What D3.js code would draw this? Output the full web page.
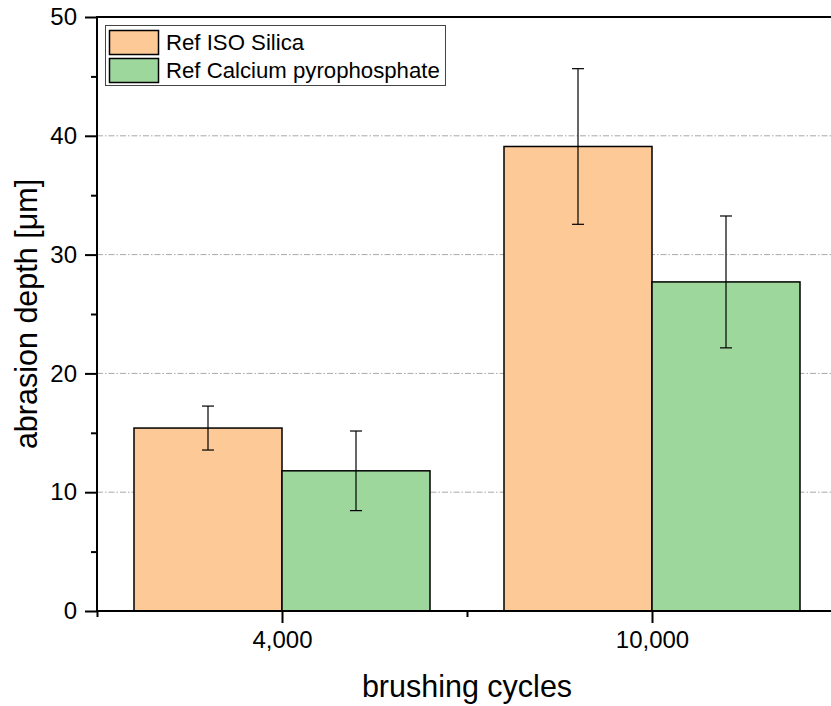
<!DOCTYPE html>
<html>
<head>
<meta charset="utf-8">
<script src="https://cdn.jsdelivr.net/npm/d3@7"></script>
<style>
  html, body { margin: 0; padding: 0; background: #fff; }
  svg { display: block; }
  text { font-family: Arial, "Liberation Sans", sans-serif; fill: #000; }
</style>
</head>
<body>
<svg id="chart" width="831" height="706"></svg>
<script>
const categories = ["4,000", "10,000"];
const seriesNames = ["Ref ISO Silica", "Ref Calcium pyrophosphate"];
const seriesColors = ["#FCC997", "#9ED79C"];
const silicaValues = [15.4, 39.1];
const silicaErrors = [1.85, 6.55];
const pyroValues = [11.8, 27.7];
const pyroErrors = [3.35, 5.55];
const yMajorTicks = [0, 10, 20, 30, 40, 50];
const yMinorTicks = [5, 15, 25, 35, 45];
const xTitle = "brushing cycles";
const yTitle = "abrasion depth [μm]";

const svg = d3.select("#chart");
const L = 97, R = 837, T = 17, B = 611;

const x = d3.scaleLinear().domain([0.5, categories.length + 0.5]).range([L, R]);
const y = d3.scaleLinear().domain([0, 50]).range([B, T]);
const barW = 0.4;

const series = [
  { name: seriesNames[0], color: seriesColors[0], values: silicaValues, errors: silicaErrors, offset: -barW },
  { name: seriesNames[1], color: seriesColors[1], values: pyroValues, errors: pyroErrors, offset: 0 }
];

// grid lines
svg.append("g").selectAll("line").data([10, 20, 30, 40]).join("line")
  .attr("x1", L).attr("x2", R)
  .attr("y1", d => y(d)).attr("y2", d => y(d))
  .attr("stroke", "#a8a8a8").attr("stroke-width", 1)
  .attr("stroke-dasharray", "6,2,1.5,2");

// bars
series.forEach(s => {
  const g = svg.append("g");
  g.selectAll("rect").data(s.values).join("rect")
    .attr("x", (d, i) => x(i + 1 + s.offset))
    .attr("width", x(1 + barW) - x(1))
    .attr("y", d => y(d))
    .attr("height", d => y(0) - y(d))
    .attr("fill", s.color)
    .attr("stroke", "#000").attr("stroke-width", 1.5);
});

// error bars
series.forEach(s => {
  const g = svg.append("g").attr("stroke", "#000").attr("stroke-width", 1.2);
  s.values.forEach((v, i) => {
    const cx = x(i + 1 + s.offset + barW / 2);
    const lo = y(v - s.errors[i]), hi = y(v + s.errors[i]);
    g.append("line").attr("x1", cx).attr("x2", cx).attr("y1", lo).attr("y2", hi);
    g.append("line").attr("x1", cx - 6).attr("x2", cx + 6).attr("y1", lo).attr("y2", lo);
    g.append("line").attr("x1", cx - 6).attr("x2", cx + 6).attr("y1", hi).attr("y2", hi);
  });
});

// Y axis
const yAxis = d3.axisLeft(y).tickValues(yMajorTicks).tickSize(12).tickPadding(8).tickFormat(d3.format("d"));
const yg = svg.append("g").attr("transform", `translate(${L},0)`).call(yAxis);
yg.select(".domain").remove();
yg.selectAll(".tick line").attr("stroke-width", 2);
yg.selectAll(".tick text").style("font-size", "24px").attr("font-family", "Arial, 'Liberation Sans', sans-serif");
const yMinor = d3.axisLeft(y).tickValues(yMinorTicks).tickSize(6).tickFormat("");
const ymg = svg.append("g").attr("transform", `translate(${L},0)`).call(yMinor);
ymg.select(".domain").remove();
ymg.selectAll(".tick line").attr("stroke-width", 2);

// X axis
const xAxis = d3.axisBottom(x).tickValues(d3.range(1, categories.length + 1)).tickSize(12).tickPadding(8)
  .tickFormat(d => categories[d - 1]);
const xg = svg.append("g").attr("transform", `translate(0,${B})`).call(xAxis);
xg.select(".domain").remove();
xg.selectAll(".tick line").attr("stroke-width", 2);
xg.selectAll(".tick text").style("font-size", "24px").attr("font-family", "Arial, 'Liberation Sans', sans-serif");
const xMinor = d3.axisBottom(x).tickValues(d3.range(0.5, categories.length + 1, 1)).tickSize(6).tickFormat("");
const xmg = svg.append("g").attr("transform", `translate(0,${B})`).call(xMinor);
xmg.select(".domain").remove();
xmg.selectAll(".tick line").attr("stroke-width", 2);

// frame lines
svg.append("line").attr("x1", L).attr("x2", L).attr("y1", T).attr("y2", B + 1).attr("stroke", "#000").attr("stroke-width", 2);
svg.append("line").attr("x1", L - 1).attr("x2", R).attr("y1", B).attr("y2", B).attr("stroke", "#000").attr("stroke-width", 2);
svg.append("line").attr("x1", L - 1).attr("x2", R).attr("y1", T).attr("y2", T).attr("stroke", "#000").attr("stroke-width", 2);
svg.append("line").attr("x1", R).attr("x2", R).attr("y1", T).attr("y2", B).attr("stroke", "#000").attr("stroke-width", 2);

// axis titles
svg.append("text").attr("x", (L + R) / 2).attr("y", 697).attr("text-anchor", "middle")
  .style("font-size", "30.5px").text(xTitle);
svg.append("text").attr("transform", `translate(37,${(T + B) / 2}) rotate(-90)`).attr("text-anchor", "middle")
  .style("font-size", "30.5px").text(yTitle);

// legend
const lg = svg.append("g");
lg.append("rect").attr("x", 105.5).attr("y", 25.5).attr("width", 340).attr("height", 60)
  .attr("fill", "#fff").attr("stroke", "#444").attr("stroke-width", 1);
series.forEach((s, i) => {
  const yy = 30 + i * 28;
  lg.append("rect").attr("x", 109.5).attr("y", yy + 0.5).attr("width", 49).attr("height", 24)
    .attr("fill", s.color).attr("stroke", "#000").attr("stroke-width", 1.5);
  lg.append("text").attr("x", 166).attr("y", yy + 20).style("font-size", "22.2px").text(s.name);
});
</script>
</body>
</html>
